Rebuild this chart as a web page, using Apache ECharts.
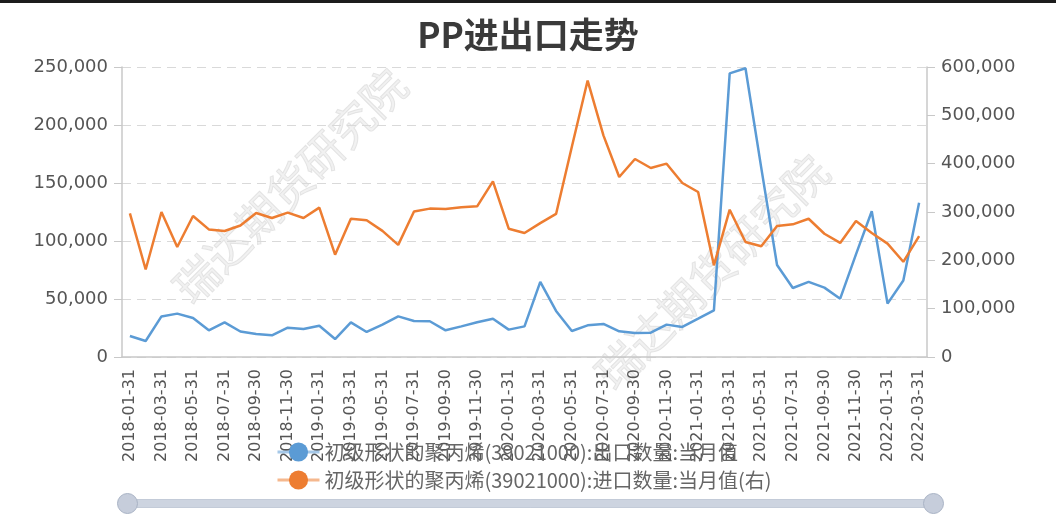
<!DOCTYPE html>
<html>
<head>
<meta charset="utf-8">
<script src="https://cdn.jsdelivr.net/npm/echarts@6/dist/echarts.min.js"></script>
<style>
html,body{margin:0;padding:0;background:#fff;}
#chart{width:1056px;height:515px;}
</style>
</head>
<body>
<div id="chart"></div>
<script>
var categories = [
 '2018-01-31','2018-02-28','2018-03-31','2018-04-30','2018-05-31','2018-06-30','2018-07-31','2018-08-31','2018-09-30','2018-10-31','2018-11-30','2018-12-31',
 '2019-01-31','2019-02-28','2019-03-31','2019-04-30','2019-05-31','2019-06-30','2019-07-31','2019-08-31','2019-09-30','2019-10-31','2019-11-30','2019-12-31',
 '2020-01-31','2020-02-29','2020-03-31','2020-04-30','2020-05-31','2020-06-30','2020-07-31','2020-08-31','2020-09-30','2020-10-31','2020-11-30','2020-12-31',
 '2021-01-31','2021-02-28','2021-03-31','2021-04-30','2021-05-31','2021-06-30','2021-07-31','2021-08-31','2021-09-30','2021-10-31','2021-11-30','2021-12-31',
 '2022-01-31','2022-02-28','2022-03-31'
];
var exportValues = [
 18100,13800,35000,37400,33600,23000,29900,22000,19800,18700,25300,24100,
 27000,15500,29900,21600,28000,35000,31000,30800,23000,26400,29900,33000,
 23600,26400,64700,39700,22400,27300,28500,22100,20700,21000,27900,25900,
 33000,40200,244500,248900,163000,79300,59500,64700,59800,50300,88500,125600,
 46000,66000,133000
];
var importValues = [
 297000,181000,300000,227600,291700,264000,260700,272000,298000,287600,298600,287600,
 309000,211700,286000,282800,261000,232000,301000,307000,306000,310000,311700,363500,
 265500,256600,277000,296000,435000,572000,458600,372400,409700,391000,400000,360000,
 341400,189700,304800,238000,229000,271000,274500,286000,255000,236000,281400,256600,
 234500,197000,250000
];
var seriesNames = ['初级形状的聚丙烯(39021000):出口数量:当月值','初级形状的聚丙烯(39021000):进口数量:当月值(右)'];
var titleText = 'PP进出口走势';
var watermarkText = '瑞达期货研究院';
var leftAxisTicks = [0,50000,100000,150000,200000,250000];
var rightAxisTicks = [0,100000,200000,300000,400000,500000,600000];

var fmt = function(v){ return Number(v).toLocaleString('en-US'); };
var cjk = "'Microsoft YaHei','Noto Sans CJK SC',sans-serif";
var num = "'DejaVu Sans',sans-serif";

var chart = echarts.init(document.getElementById('chart'), null, {renderer:'canvas'});
chart.setOption({
  animation:false,
  backgroundColor:'#fff',
  color:['#5b9bd5','#ed7d31'],
  title:{text:titleText,left:'center',top:12,textStyle:{fontFamily:cjk,fontSize:35,fontWeight:'bold',color:'#3a3a3a'}},
  graphic:[
    {type:'rect',left:0,top:0,z:100,shape:{width:1056,height:3},style:{fill:'#1c1c1c'}},
    {type:'text',x:290,y:186,rotation:Math.PI/4,z:0,style:{text:watermarkText,font:"44px 'Noto Sans CJK SC'",align:'center',verticalAlign:'middle',fill:'rgba(215,215,215,0.35)',stroke:'rgba(185,185,185,0.35)',lineWidth:1}},
    {type:'text',x:712,y:272,rotation:Math.PI/4,z:0,style:{text:watermarkText,font:"44px 'Noto Sans CJK SC'",align:'center',verticalAlign:'middle',fill:'rgba(215,215,215,0.35)',stroke:'rgba(185,185,185,0.35)',lineWidth:1}}
  ],
  legend:{
    orient:'vertical',left:271,top:437,itemWidth:42,itemHeight:24,itemGap:8,
    textStyle:{fontFamily:cjk,fontSize:20,color:'#666'},
    lineStyle:{width:3,opacity:0.55},
    data:seriesNames
  },
  grid:{left:122,right:129,top:67,bottom:158},
  xAxis:{
    type:'category',data:categories,boundaryGap:true,
    axisLine:{lineStyle:{color:'#c8c8c8',width:1.5}},
    axisTick:{alignWithLabel:true,length:8,interval:function(i){return i%2===1;},lineStyle:{color:'#c8c8c8'}},
    axisLabel:{rotate:90,interval:1,margin:12,fontFamily:num,fontSize:16,color:'#555'}
  },
  yAxis:[
    {type:'value',min:leftAxisTicks[0],max:leftAxisTicks[leftAxisTicks.length-1],interval:leftAxisTicks[1]-leftAxisTicks[0],position:'left',
     axisLine:{show:true,lineStyle:{color:'#c8c8c8',width:1.5}},
     axisTick:{show:true,length:8,lineStyle:{color:'#c8c8c8'}},
     axisLabel:{margin:14,fontFamily:num,fontSize:18,color:'#555',formatter:fmt},
     splitLine:{show:true,lineStyle:{color:'#d9d9d9',type:[9,6],width:1}}},
    {type:'value',min:rightAxisTicks[0],max:rightAxisTicks[rightAxisTicks.length-1],interval:rightAxisTicks[1]-rightAxisTicks[0],position:'right',
     axisLine:{show:true,lineStyle:{color:'#c8c8c8',width:1.5}},
     axisTick:{show:true,length:8,lineStyle:{color:'#c8c8c8'}},
     axisLabel:{margin:14,fontFamily:num,fontSize:18,color:'#555',formatter:fmt},
     splitLine:{show:false}}
  ],
  dataZoom:[{
    type:'slider',xAxisIndex:0,start:0,end:100,left:125,right:123,bottom:7,height:9,
    showDetail:false,showDataShadow:false,brushSelect:false,moveHandleSize:0,
    handleIcon:'circle',handleSize:20,
    handleStyle:{color:'#c6cddb',borderColor:'#a9b3c5',borderWidth:1},
    emphasis:{handleStyle:{color:'#c6cddb',borderColor:'#a9b3c5'}},
    fillerColor:'rgba(196,204,219,0.75)',borderColor:'#c3cbd8',backgroundColor:'#e6eaf0'
  }],
  series:[
    {name:seriesNames[0],type:'line',yAxisIndex:0,data:exportValues,symbol:'circle',showSymbol:false,lineStyle:{width:2.5},emphasis:{disabled:true}},
    {name:seriesNames[1],type:'line',yAxisIndex:1,data:importValues,symbol:'circle',showSymbol:false,lineStyle:{width:2.5},emphasis:{disabled:true}}
  ]
});
</script>
</body>
</html>
